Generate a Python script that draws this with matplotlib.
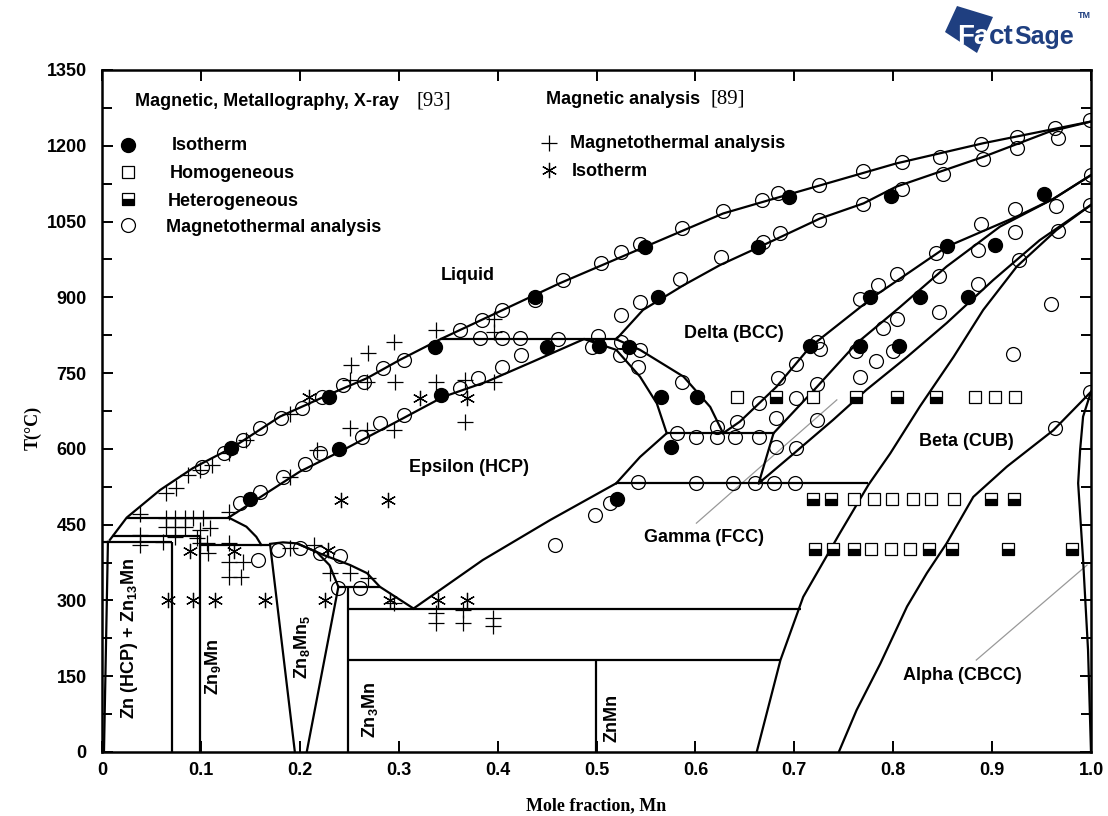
import numpy as np
import matplotlib
matplotlib.use('Agg')
import matplotlib.pyplot as plt
from matplotlib.patches import Polygon
from matplotlib.ticker import MultipleLocator

plt.rcParams['font.family'] = ['Liberation Sans', 'DejaVu Sans']
plt.rcParams['mathtext.fontset'] = 'custom'
plt.rcParams['mathtext.rm'] = 'Liberation Sans:bold'
plt.rcParams['mathtext.it'] = 'Liberation Sans:bold'
plt.rcParams['mathtext.bf'] = 'Liberation Sans:bold'

# ---- phase boundaries (x = mole fraction Mn, T in C) ----
liq_x = [0.008, 0.025, 0.059, 0.092, 0.133, 0.18, 0.23, 0.268, 0.301, 0.342, 0.402, 0.463, 0.549, 0.628, 0.686, 0.803, 0.891, 1.0]
liq_T = [420, 464, 519, 562, 604, 664, 708, 740, 776, 817, 872, 928, 1000, 1066, 1099, 1165, 1205, 1248]

sol_x = [0.52, 0.547, 0.588, 0.625, 0.665, 0.726, 0.77, 0.803, 0.891, 0.958, 1.0]
sol_T = [817, 875, 924, 964, 1000, 1056, 1086, 1119, 1178, 1228, 1248]

eps_sol_x = [0.128, 0.2, 0.244, 0.301, 0.345, 0.389, 0.436, 0.487]
eps_sol_T = [464, 555, 598, 657, 703, 733, 773, 817]

eps_left_x = [0.128, 0.146, 0.156, 0.161]
eps_left_T = [464, 446, 426, 410]

dome_x = [0.17, 0.183, 0.197, 0.217, 0.23, 0.239]
dome_T = [412, 415, 413, 396, 370, 327]

eps_low_x = [0.197, 0.224, 0.251, 0.268, 0.281, 0.315]
eps_low_T = [413, 390, 370, 354, 327, 284]

z85_left_x = [0.17, 0.195]
z85_left_T = [410, 0]
z85_right_x = [0.239, 0.207]
z85_right_T = [327, 0]

eps_gam_x = [0.315, 0.385, 0.453, 0.52]
eps_gam_T = [284, 380, 459, 532]

gam_up_x = [0.52, 0.544, 0.571]
gam_up_T = [532, 584, 631]

eps_right_x = [0.488, 0.52, 0.544, 0.561, 0.571]
eps_right_T = [817, 796, 743, 690, 631]

delta_in_x = [0.52, 0.544, 0.588, 0.615, 0.628]
delta_in_T = [817, 796, 743, 683, 631]

bnd_c_x = [0.628, 0.645, 0.682, 0.716, 0.78, 0.854, 0.925, 0.962, 1.0]
bnd_c_T = [631, 654, 723, 802, 901, 1000, 1060, 1095, 1142]

bnd_d_x = [0.679, 0.723, 0.763, 0.807, 0.854, 0.908, 0.962, 1.0]
bnd_d_T = [631, 723, 809, 881, 961, 1040, 1095, 1142]

gam_wedge_x = [0.679, 0.664]
gam_wedge_T = [631, 532]

bnd_e_x = [0.664, 0.696, 0.739, 0.773, 0.814, 0.854, 0.901, 0.948, 1.0]
bnd_e_T = [532, 585, 657, 717, 782, 849, 934, 1013, 1083]

beta_x = [0.662, 0.686, 0.709, 0.746, 0.775, 0.797, 0.827, 0.861, 0.891, 0.925, 0.965, 1.0]
beta_T = [0, 182, 307, 433, 529, 591, 684, 782, 875, 961, 1033, 1083]

alpha_beta_x = [0.745, 0.763, 0.787, 0.814, 0.834, 0.854, 0.881, 0.915, 0.962, 1.0]
alpha_beta_T = [0, 83, 175, 288, 354, 413, 505, 565, 637, 713]

alpha_x = [1.0, 0.992, 0.989, 0.987, 0.992, 0.997, 1.0]
alpha_T = [713, 664, 598, 532, 380, 202, 0]

zn_solv_x = [0.006, 0.002]
zn_solv_T = [416, 0]

# invariant horizontals
iso_T = [817, 631, 532, 464, 428, 416, 410, 327, 284, 182]
iso_x0 = [0.342, 0.571, 0.52, 0.025, 0.01, 0.0, 0.099, 0.239, 0.249, 0.249]
iso_x1 = [0.52, 0.679, 0.775, 0.128, 0.099, 0.0705, 0.17, 0.281, 0.707, 0.6855]

# compound lines
comp_x = [0.0705, 0.099, 0.249, 0.499]
comp_T = [416, 428, 327, 182]

# ---- experimental points ----
iso93_x = [0.13, 0.15, 0.23, 0.24, 0.337, 0.343, 0.438, 0.45, 0.503, 0.533, 0.549, 0.562, 0.565, 0.602,
           0.575, 0.521, 0.663, 0.695, 0.798, 0.952, 0.854, 0.903, 0.777, 0.827, 0.876, 0.716, 0.766, 0.806]
iso93_T = [601, 501, 703, 600, 802, 706, 901, 802, 804, 802, 1000, 901, 703, 703,
           604, 500, 999, 1099, 1101, 1105, 1001, 1004, 900, 900, 901, 804, 804, 804]

mt93_x = [0.101, 0.123, 0.143, 0.160, 0.181, 0.202, 0.222, 0.244, 0.265, 0.284, 0.305, 0.362, 0.384, 0.404,
          0.438, 0.466, 0.505, 0.525, 0.544, 0.586, 0.628, 0.667, 0.684, 0.725, 0.769, 0.809, 0.847, 0.889,
          0.925, 0.964, 0.999, 0.967, 0.925, 0.891, 0.850, 0.809, 0.769, 0.725, 0.686, 0.668, 0.525, 0.544,
          0.584, 0.626, 0.205, 0.220, 0.263, 0.281, 0.305, 0.362, 0.380, 0.404, 0.424, 0.382, 0.404, 0.423,
          0.461, 0.495, 0.502, 0.525, 0.524, 0.542, 0.544, 0.140, 0.160, 0.183, 0.178, 0.158, 0.200, 0.220,
          0.241, 0.239, 0.261, 0.586, 0.622, 0.642, 0.581, 0.601, 0.622, 0.640, 0.664, 0.542, 0.601, 0.638,
          0.660, 0.679, 0.701, 0.514, 0.498, 0.458, 0.664, 0.682, 0.702, 0.684, 0.682, 0.702, 0.723, 0.889,
          0.923, 0.965, 0.999, 0.967, 0.923, 0.886, 0.927, 0.843, 0.846, 0.804, 0.785, 0.766, 0.886, 0.846,
          0.804, 0.790, 0.783, 0.800, 0.762, 0.766, 0.723, 0.726, 0.702, 0.723, 0.960, 0.921, 0.964, 0.999, 1.0]
mt93_T = [564, 591, 617, 642, 661, 680, 703, 726, 733, 760, 776, 835, 855, 875,
          895, 934, 967, 990, 1006, 1037, 1070, 1093, 1107, 1122, 1151, 1167, 1178, 1204,
          1218, 1235, 1251, 1215, 1196, 1173, 1145, 1114, 1085, 1054, 1027, 1010, 865, 891,
          936, 979, 571, 591, 624, 651, 667, 720, 740, 763, 786, 819, 819, 819,
          817, 802, 823, 812, 786, 763, 796, 492, 515, 545, 400, 380, 403, 393,
          387, 324, 324, 733, 644, 654, 631, 624, 624, 624, 624, 535, 532, 532,
          532, 532, 532, 492, 469, 410, 690, 661, 700, 740, 604, 601, 657, 1046,
          1074, 1081, 1083, 1032, 1029, 994, 973, 987, 942, 946, 924, 896, 926, 870,
          857, 839, 773, 794, 794, 743, 812, 797, 769, 728, 887, 787, 641, 713, 1142]

homog_x = [0.642, 0.719, 0.883, 0.903, 0.923, 0.760, 0.781, 0.799, 0.820, 0.838, 0.861, 0.778, 0.798, 0.817]
homog_T = [703, 703, 703, 703, 703, 500, 500, 500, 500, 500, 500, 402, 402, 402]

heterog_x = [0.681, 0.762, 0.804, 0.843, 0.719, 0.737, 0.899, 0.922,
             0.721, 0.739, 0.760, 0.836, 0.859, 0.916, 0.981]
heterog_T = [703, 703, 703, 703, 500, 500, 500, 500,
             402, 402, 402, 402, 402, 402, 402]

mt89_x = [0.038, 0.038, 0.038, 0.062, 0.065, 0.075, 0.087, 0.099, 0.111, 0.128, 0.146, 0.128, 0.065, 0.074,
          0.084, 0.092, 0.102, 0.065, 0.074, 0.084, 0.099, 0.109, 0.074, 0.096, 0.099, 0.106, 0.107, 0.128,
          0.128, 0.143, 0.128, 0.141, 0.190, 0.217, 0.190, 0.251, 0.268, 0.295, 0.251, 0.268, 0.296, 0.252,
          0.269, 0.295, 0.338, 0.338, 0.367, 0.396, 0.396, 0.396, 0.367, 0.190, 0.214, 0.231, 0.251, 0.269,
          0.295, 0.338, 0.338, 0.365, 0.365, 0.395, 0.395]
mt89_T = [472, 430, 410, 416, 512, 522, 548, 558, 568, 591, 618, 476, 463, 463,
          463, 463, 463, 446, 446, 446, 439, 443, 426, 423, 413, 413, 393, 413,
          377, 377, 347, 347, 670, 598, 545, 641, 637, 637, 736, 733, 733, 766,
          789, 812, 835, 733, 736, 733, 858, 832, 654, 403, 410, 354, 354, 344,
          294, 275, 255, 281, 255, 265, 250]

iso89_x = [0.209, 0.322, 0.369, 0.242, 0.289, 0.089, 0.133, 0.229, 0.067, 0.092, 0.114, 0.165, 0.225, 0.291, 0.340, 0.369]
iso89_T = [703, 700, 700, 499, 499, 397, 397, 400, 300, 300, 300, 300, 300, 300, 300, 300]

# leader lines for labels
gamma_lead_x = [0.601, 0.743]
gamma_lead_T = [453, 697]
alpha_lead_x = [0.884, 0.996]
alpha_lead_T = [182, 370]

W, H = 1108, 816
fig = plt.figure(figsize=(W / 100, H / 100), dpi=100)
ax = fig.add_axes([102 / W, 1 - 752 / H, 989 / W, 682 / H])


def fp(x, y):
    return x / W, 1 - y / H


lw = 1.6
curves = [(liq_x, liq_T), (sol_x, sol_T), (eps_sol_x, eps_sol_T), (eps_left_x, eps_left_T),
          (dome_x, dome_T), (eps_low_x, eps_low_T), (z85_left_x, z85_left_T), (z85_right_x, z85_right_T),
          (eps_gam_x, eps_gam_T), (gam_up_x, gam_up_T), (eps_right_x, eps_right_T),
          (delta_in_x, delta_in_T), (bnd_c_x, bnd_c_T), (bnd_d_x, bnd_d_T), (gam_wedge_x, gam_wedge_T),
          (bnd_e_x, bnd_e_T), (beta_x, beta_T), (alpha_beta_x, alpha_beta_T), (alpha_x, alpha_T),
          (zn_solv_x, zn_solv_T)]
for cx, cT in curves:
    ax.plot(cx, cT, color='black', lw=lw, solid_joinstyle='round', zorder=2)
ax.hlines(iso_T, iso_x0, iso_x1, color='black', lw=lw, zorder=2)
ax.vlines(comp_x, 0, comp_T, color='black', lw=lw, zorder=2)

ax.plot(gamma_lead_x, gamma_lead_T, color='#999999', lw=0.9, zorder=1)
ax.plot(alpha_lead_x, alpha_lead_T, color='#999999', lw=0.9, zorder=1)

# points
ax.plot(mt93_x, mt93_T, 'o', ms=10, mfc='none', mec='black', mew=0.9, ls='none', zorder=3)
ax.plot(iso93_x, iso93_T, 'o', ms=10, mfc='black', mec='black', ls='none', zorder=4)
ax.plot(homog_x, homog_T, 's', ms=8, mfc='white', mec='black', mew=0.9, ls='none', zorder=3)
ax.plot(heterog_x, heterog_T, 's', ms=8, mfc='black', mfcalt='white', fillstyle='bottom',
        mec='black', mew=0.9, ls='none', zorder=3)
ax.plot(mt89_x, mt89_T, '+', ms=11, mec='black', mew=0.9, ls='none', zorder=3)
ax.plot(iso89_x, iso89_T, marker=(6, 2, 0), ms=11, mec='black', mew=0.9, ls='none', zorder=3)

ax.set_xlim(0, 1)
ax.set_ylim(0, 1350)
ax.yaxis.set_major_locator(MultipleLocator(150))
ax.yaxis.set_minor_locator(MultipleLocator(75))
ax.set_xticks(np.arange(0, 1.01, 0.1))
ax.set_xticklabels(['0', '0.1', '0.2', '0.3', '0.4', '0.5', '0.6', '0.7', '0.8', '0.9', '1.0'])
ax.tick_params(which='both', direction='in', top=True, right=True, width=1.4, labelsize=13)
ax.tick_params(which='major', length=8)
ax.tick_params(which='minor', length=7)
ax.tick_params(axis='x', pad=7)
ax.tick_params(axis='y', pad=11)
for lab in ax.get_xticklabels() + ax.get_yticklabels():
    lab.set_fontweight('bold')
for sp in ax.spines.values():
    sp.set_linewidth(1.8)

fig.text(*fp(596, 806), 'Mole fraction, Mn', family='Liberation Serif', fontweight='bold',
         fontsize=13, ha='center', va='center')
fig.text(*fp(33, 428), 'T(\u00b0C)', family='Liberation Serif', fontweight='bold',
         fontsize=13, ha='center', va='center', rotation=90)

# phase labels
bold = dict(fontweight='bold', fontsize=13, ha='center', va='center')
for txt, x, y in [('Liquid', 468, 275), ('Delta (BCC)', 734, 334), ('Epsilon (HCP)', 469, 468),
                  ('Beta (CUB)', 966, 442), ('Gamma (FCC)', 704, 538), ('Alpha (CBCC)', 962, 675)]:
    fig.text(*fp(x, y), txt, **bold)
for txt, x, y in [('Zn (HCP) + Zn$_{13}$Mn', 130, 638), ('Zn$_9$Mn', 213, 667), ('Zn$_8$Mn$_5$', 302, 647),
                  ('Zn$_3$Mn', 370, 710), ('ZnMn', 612, 718)]:
    fig.text(*fp(x, y), txt, rotation=90, **bold)

# legend block
lt = dict(fontweight='bold', fontsize=13, ha='left', va='center')
fig.text(*fp(135, 102), 'Magnetic, Metallography, X-ray', **lt)
fig.text(*fp(417, 101), '[93]', family='Liberation Serif', fontsize=15, ha='left', va='center')
fig.text(*fp(546, 100), 'Magnetic analysis', **lt)
fig.text(*fp(710, 99), '[89]', family='Liberation Serif', fontsize=15, ha='left', va='center')

leg = [((128, 145), dict(marker='o', ms=10, mfc='black', mec='black'), (172, 145), 'Isotherm'),
       ((128, 172), dict(marker='s', ms=8, mfc='white', mec='black', mew=0.9), (170, 173), 'Homogeneous'),
       ((128, 199), dict(marker='s', ms=8, mfc='black', mfcalt='white', fillstyle='bottom', mec='black', mew=0.9),
        (168, 201), 'Heterogeneous'),
       ((128, 225), dict(marker='o', ms=10, mfc='none', mec='black', mew=0.9), (166, 227), 'Magnetothermal analysis'),
       ((549, 143), dict(marker='+', ms=11, mec='black', mew=0.9), (570, 143), 'Magnetothermal analysis'),
       ((549, 170), dict(marker=(6, 2, 0), ms=11, mec='black', mew=0.9), (572, 171), 'Isotherm')]
for (mx, my), style, (tx, ty), txt in leg:
    fx, fy = fp(mx, my)
    ax.plot([fx], [fy], transform=fig.transFigure, clip_on=False, ls='none', **style)
    fig.text(*fp(tx, ty), txt, **lt)

# FactSage logo: white "Fa" on the tilted square, rest in navy
navy = '#1f3f80'
logo = Polygon([fp(945, 32), fp(957, 6), fp(993, 17), fp(977, 53)], closed=True,
               transform=fig.transFigure, facecolor=navy, edgecolor='none')
fig.patches.append(logo)
t_fa = fig.text(*fp(957, 44), 'Fa', color='white', fontsize=20, fontweight='bold', va='baseline', ha='left')
fig.canvas.draw()
bb = t_fa.get_window_extent()
t_ct = fig.text(bb.x1 / W, 1 - 44 / H, 'ct', color=navy, fontsize=20, fontweight='bold',
                va='baseline', ha='left')
fig.canvas.draw()
bb2 = t_ct.get_window_extent()
fig.text(bb2.x1 / W, 1 - 44 / H, 'Sage', color=navy, fontsize=18, fontweight='bold',
         va='baseline', ha='left')
fig.text(*fp(1078, 16), 'TM', color=navy, fontsize=6.5, fontweight='bold', ha='left', va='center')

fig.savefig('out.png', dpi=100)
